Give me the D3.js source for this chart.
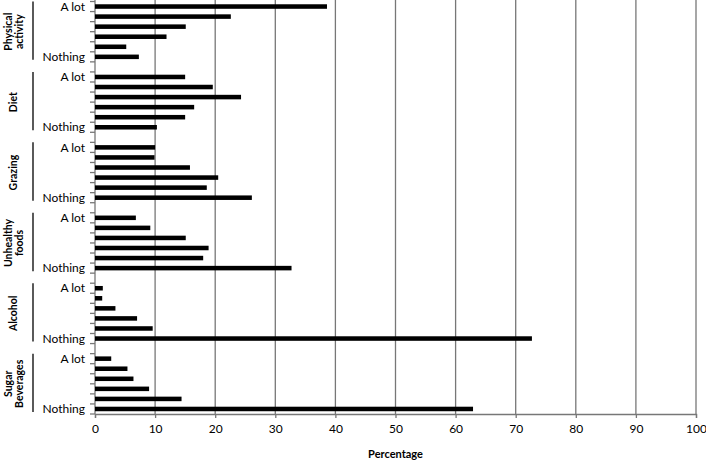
<!DOCTYPE html>
<html>
<head>
<meta charset="utf-8">
<script src="https://cdn.jsdelivr.net/npm/d3@7"></script>
<style>
  html, body { margin: 0; padding: 0; background: #fff; }
  svg { display: block; font-family: Lato, "Open Sans", sans-serif; }
</style>
</head>
<body>
<svg id="chart" width="706" height="460"></svg>
<script>
const groups = [["Physical", "activity"], ["Diet"], ["Grazing"], ["Unhealthy", "foods"], ["Alcohol"], ["Sugar", "Beverages"]];
const levelLabels = ["A lot", "", "", "", "", "Nothing"];
const physicalActivity = [38.6, 22.6, 15.1, 11.9, 5.2, 7.3];
const diet = [15.0, 19.6, 24.3, 16.5, 15.0, 10.3];
const grazing = [10.0, 9.9, 15.8, 20.5, 18.6, 26.1];
const unhealthyFoods = [6.8, 9.2, 15.1, 18.9, 18.0, 32.7];
const alcohol = [1.3, 1.2, 3.4, 7.0, 9.6, 72.7];
const sugarBeverages = [2.7, 5.4, 6.4, 9.0, 14.4, 62.9];
const xTicks = [0, 10, 20, 30, 40, 50, 60, 70, 80, 90, 100];
const xLabel = "Percentage";

const series = [physicalActivity, diet, grazing, unhealthyFoods, alcohol, sugarBeverages];

const keys = [];
const rows = [];
series.forEach((vals, g) => {
  vals.forEach((v, i) => {
    const k = g + "-" + i;
    keys.push(k);
    rows.push({ key: k, g, i, value: v, label: levelLabels[i] });
  });
  if (g < series.length - 1) keys.push("gap" + g);
});

const svg = d3.select("#chart");
const mLeft = 95, mRight = 696, mTop = 1.5, mBottom = 414;

const x = d3.scaleLinear().domain([0, 100]).range([mLeft, mRight]);
const y = d3.scaleBand().domain(keys).range([mTop, mBottom]).paddingInner(0.55).paddingOuter(0.275);
const step = y.step();

// gridlines
svg.append("g").selectAll("line").data(xTicks.filter(t => t > 0)).join("line")
  .attr("x1", d => x(d)).attr("x2", d => x(d))
  .attr("y1", 0).attr("y2", mBottom)
  .attr("stroke", "#777").attr("stroke-width", 1.3);

// x axis
const xAxis = d3.axisBottom(x).tickValues(xTicks).tickSize(4).tickPadding(6).tickFormat(d3.format("d"));
const gx = svg.append("g").attr("transform", `translate(0,${mBottom})`).call(xAxis);
gx.select(".domain").attr("stroke", "#777").attr("stroke-width", 1.3);
gx.selectAll(".tick line").attr("stroke", "#777").attr("stroke-width", 1.3);
gx.selectAll(".tick text").attr("font-size", 12).attr("fill", "#000").attr("font-family", "Lato, sans-serif");

// y axis line
svg.append("line").attr("x1", mLeft).attr("x2", mLeft).attr("y1", 0).attr("y2", mBottom)
  .attr("stroke", "#777").attr("stroke-width", 1.3);

// y ticks at slot boundaries
const boundaries = d3.range(keys.length + 1).map(k => mTop + k * step);
svg.append("g").selectAll("line").data(boundaries).join("line")
  .attr("x1", mLeft - 5).attr("x2", mLeft)
  .attr("y1", d => d).attr("y2", d => d)
  .attr("stroke", "#777").attr("stroke-width", 1.3);

// bars
svg.append("g").selectAll("rect").data(rows).join("rect")
  .attr("x", x(0))
  .attr("y", d => y(d.key))
  .attr("width", d => x(d.value) - x(0))
  .attr("height", y.bandwidth())
  .attr("fill", "#000");

// level labels
svg.append("g").selectAll("text").data(rows.filter(d => d.label)).join("text")
  .attr("x", mLeft - 10)
  .attr("y", d => y(d.key) + y.bandwidth() / 2)
  .attr("dy", "0.35em")
  .attr("text-anchor", "end")
  .attr("font-size", 12)
  .text(d => d.label);

// group brackets and labels
groups.forEach((lines, g) => {
  const y0 = y(g + "-0") - (step - y.bandwidth()) / 2;
  const y1 = y(g + "-5") + y.bandwidth() + (step - y.bandwidth()) / 2 - 2;
  svg.append("line").attr("x1", 33).attr("x2", 33).attr("y1", Math.max(0, y0)).attr("y2", y1)
    .attr("stroke", "#000").attr("stroke-width", 1.3);
  const cy = (y0 + y1) / 2 + 1;
  const lh = 10.5;
  const cx0 = lines.length === 1 ? 13.5 : 8.5;
  lines.forEach((t, li) => {
    const cx = cx0 + li * lh;
    svg.append("text")
      .attr("transform", `translate(${cx},${cy}) rotate(-90)`)
      .attr("text-anchor", "middle")
      .attr("dy", "0.35em")
      .attr("font-size", 10.5)
      .attr("font-weight", "bold")
      .text(t);
  });
});

// x label
svg.append("text").attr("x", (mLeft + mRight) / 2).attr("y", 458)
  .attr("text-anchor", "middle").attr("font-size", 11).attr("font-weight", "bold")
  .text(xLabel);
</script>
</body>
</html>
